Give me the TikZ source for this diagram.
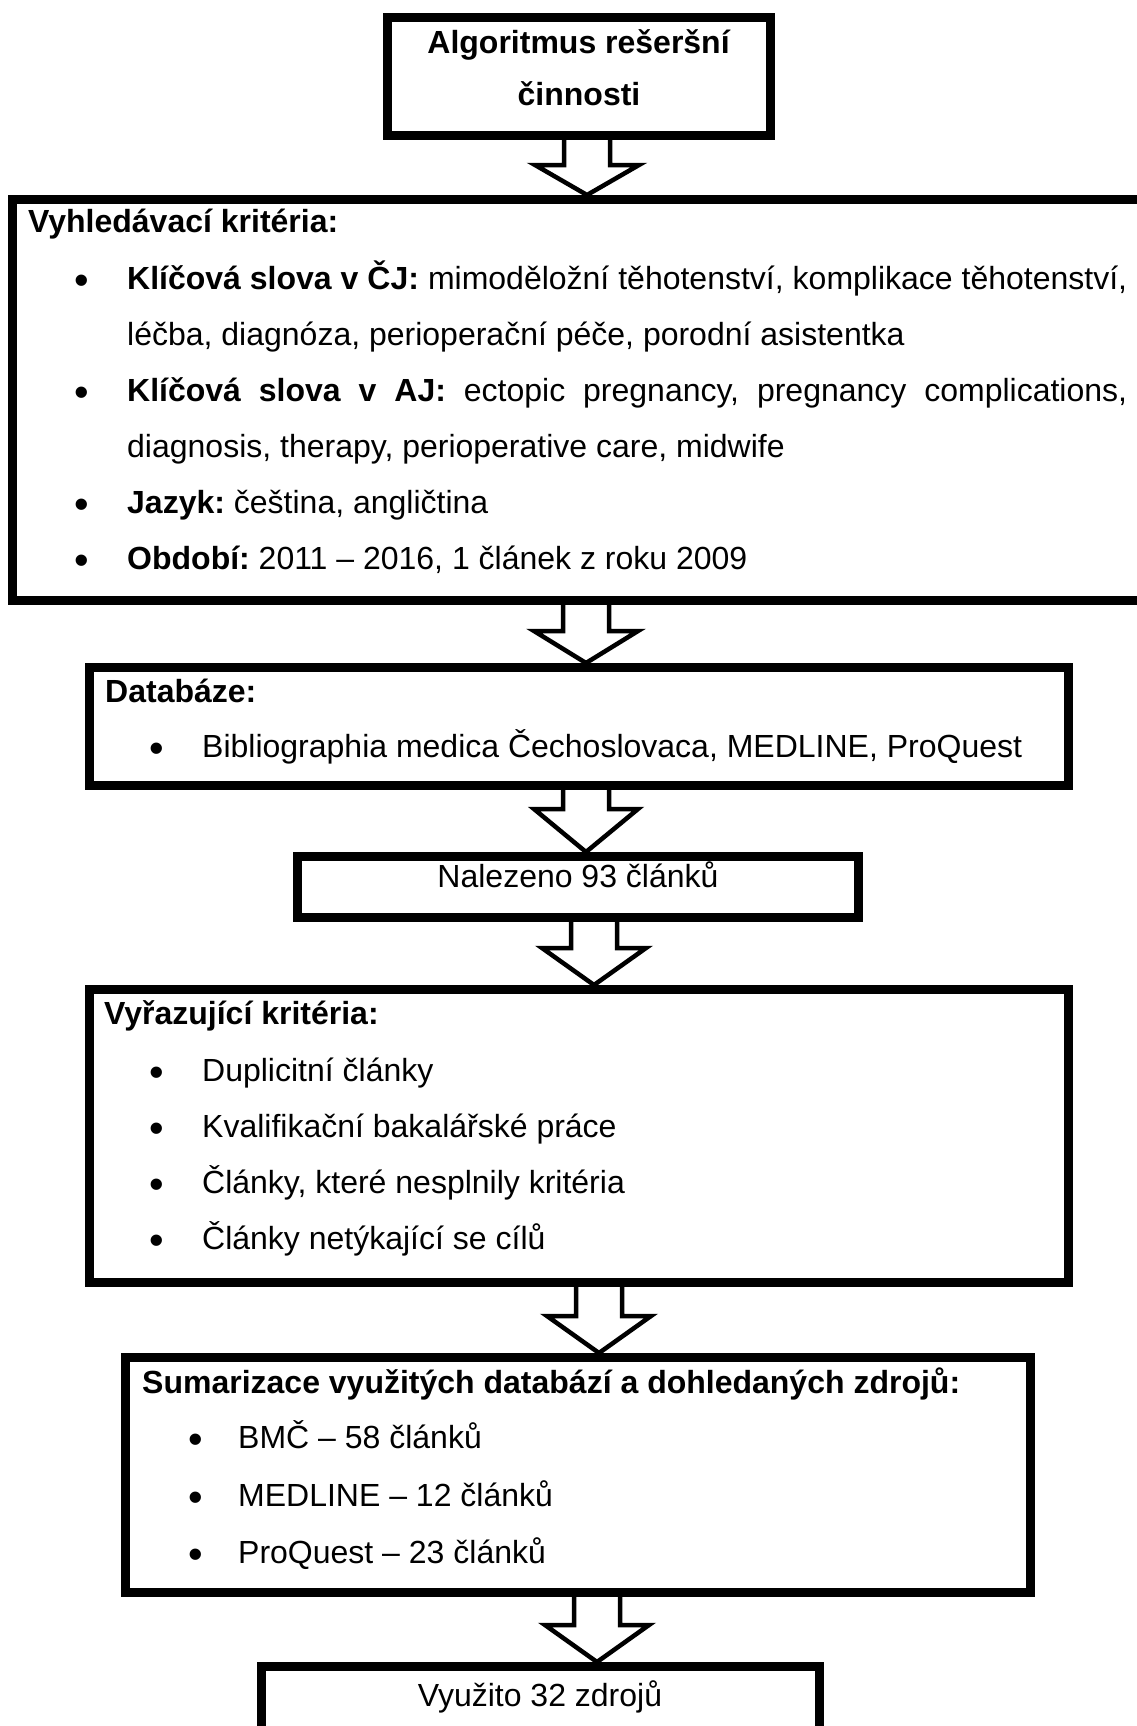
\documentclass[tikz,border=0pt]{standalone}
\usepackage{fontspec}
\setmainfont{Liberation Sans}
\usetikzlibrary{calc}
\frenchspacing

% hollow block arrow: from node, to node, axis x, head length
\newcommand{\flowarrow}[4]{%
\draw [flowline] ($(#1.south -| #3,0)+(-23,0)$) -- ($(#2.north -| #3,0)+(-23,-#4)$) -- ($(#2.north -| #3,0)+(-52,-#4)$) -- (#2.north -| #3,0) -- ($(#2.north -| #3,0)+(52,-#4)$) -- ($(#2.north -| #3,0)+(23,-#4)$) -- ($(#1.south -| #3,0)+(23,0)$) ;
}

\begin{document}
\begin{tikzpicture}[x=1pt,y=1pt,yscale=-1,xscale=1,
  box/.style={draw, line width=9, rectangle, inner sep=0},
  flowline/.style={draw, line width=4.5, line join=miter},
  txt/.style={anchor=base west, inner sep=0},
  ctr/.style={anchor=base, inner sep=0},
  bul/.style={anchor=base, inner sep=0, scale=1.3},
  font=\fontsize{32}{56}\selectfont]
\clip (0,0) rectangle (1137,1726);

%Shape: Rectangle [algoritmus]
\node [box, minimum width=383, minimum height=118] (algoritmus) at (579,76.5) {};
%Shape: Rectangle [vyhledavani]
\node [box, minimum width=1140, minimum height=401] (vyhledavani) at (582.5,400) {};
%Shape: Rectangle [databaze]
\node [box, minimum width=979, minimum height=118] (databaze) at (579,726.5) {};
%Shape: Rectangle [nalezeno]
\node [box, minimum width=561, minimum height=61] (nalezeno) at (578,887) {};
%Shape: Rectangle [vyrazeni]
\node [box, minimum width=979, minimum height=293] (vyrazeni) at (579,1136) {};
%Shape: Rectangle [sumarizace]
\node [box, minimum width=905, minimum height=235] (sumarizace) at (578,1475) {};
%Shape: Rectangle [vyuzito]
\node [box, minimum width=558, minimum height=120] (vyuzito) at (540.5,1726.5) {};

%Block Arrows
\flowarrow{algoritmus}{vyhledavani}{587}{30}
\flowarrow{vyhledavani}{databaze}{586}{32}
\flowarrow{databaze}{nalezeno}{586}{43}
\flowarrow{nalezeno}{vyrazeni}{594}{37}
\flowarrow{vyrazeni}{sumarizace}{599}{37}
\flowarrow{sumarizace}{vyuzito}{597}{37}

% Text Node
\node [ctr] (alg-1) at (579,54) {\textbf{Algoritmus rešeršní}};
% Text Node
\node [ctr] (alg-2) at (579,106) {\textbf{činnosti}};

% Text Node
\node [txt] (vyhl-title) at (28,232) {\textbf{Vyhledávací kritéria:}};
% Text Node
\node [bul] (vyhl-b1) at (82,294) {•};
\node [txt] (vyhl-1a) at (127,289) {\makebox[1000pt][s]{\textbf{Klíčová slova v ČJ:} mimoděložní těhotenství, komplikace těhotenství,}};
\node [txt] (vyhl-1b) at (127,345) {léčba, diagnóza, perioperační péče, porodní asistentka};
% Text Node
\node [bul] (vyhl-b2) at (82,406) {•};
\node [txt] (vyhl-2a) at (127,401) {\makebox[1000pt][s]{\textbf{Klíčová slova v AJ:} ectopic pregnancy, pregnancy complications,}};
\node [txt] (vyhl-2b) at (127,457) {diagnosis, therapy, perioperative care, midwife};
% Text Node
\node [bul] (vyhl-b3) at (82,518) {•};
\node [txt] (vyhl-3) at (127,513) {\textbf{Jazyk:} čeština, angličtina};
% Text Node
\node [bul] (vyhl-b4) at (82,574) {•};
\node [txt] (vyhl-4) at (127,569) {\textbf{Období:} 2011 – 2016, 1 článek z roku 2009};

% Text Node
\node [txt] (db-title) at (105,702) {\textbf{Databáze:}};
\node [bul] (db-b1) at (157,762) {•};
\node [txt] (db-1) at (202,757) {Bibliographia medica Čechoslovaca, MEDLINE, ProQuest};

% Text Node
\node [ctr] (nal-1) at (578,887) {Nalezeno 93 článků};

% Text Node
\node [txt] (vyr-title) at (104,1024) {\textbf{Vyřazující kritéria:}};
\node [bul] (vyr-b1) at (157,1086) {•};
\node [txt] (vyr-1) at (202,1081) {Duplicitní články};
\node [bul] (vyr-b2) at (157,1142) {•};
\node [txt] (vyr-2) at (202,1137) {Kvalifikační bakalářské práce};
\node [bul] (vyr-b3) at (157,1198) {•};
\node [txt] (vyr-3) at (202,1193) {Články, které nesplnily kritéria};
\node [bul] (vyr-b4) at (157,1254) {•};
\node [txt] (vyr-4) at (202,1249) {Články netýkající se cílů};

% Text Node
\node [txt] (sum-title) at (142,1393) {\textbf{Sumarizace využitých databází a dohledaných zdrojů:}};
\node [bul] (sum-b1) at (196,1453) {•};
\node [txt] (sum-1) at (238,1448) {BMČ – 58 článků};
\node [bul] (sum-b2) at (196,1511) {•};
\node [txt] (sum-2) at (238,1506) {MEDLINE – 12 článků};
\node [bul] (sum-b3) at (196,1568) {•};
\node [txt] (sum-3) at (238,1563) {ProQuest – 23 článků};

% Text Node
\node [ctr] (vyu-1) at (540,1706) {Využito 32 zdrojů};
\end{tikzpicture}
\end{document}
